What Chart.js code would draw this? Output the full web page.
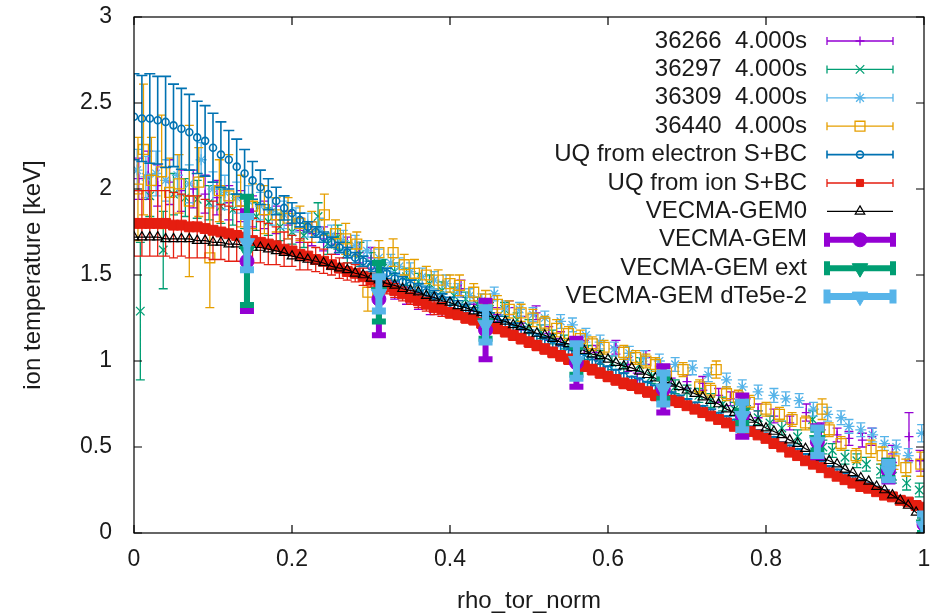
<!DOCTYPE html>
<html>
<head>
<meta charset="utf-8">
<title>Ion temperature profiles</title>
<script src="https://cdn.jsdelivr.net/npm/chart.js@4.4.1/dist/chart.umd.min.js"></script>
<style>
  html, body { margin: 0; padding: 0; background: #fff; }
  #wrap { width: 934px; height: 616px; }
</style>
</head>
<body>
<div id="wrap"><canvas id="tiChart" width="934" height="616"></canvas></div>
<script>
// axis ticks
const xTicks = [0, 0.2, 0.4, 0.6, 0.8, 1];
const yTicks = [0, 0.5, 1, 1.5, 2, 2.5, 3];

// common radial grid of the modelled profiles
const rhoGrid = [0,0.01,0.02,0.03,0.04,0.05,0.06,0.07,0.08,0.09,
  0.10,0.11,0.12,0.13,0.14,0.15,0.16,0.17,0.18,0.19,
  0.20,0.21,0.22,0.23,0.24,0.25,0.26,0.27,0.28,0.29,
  0.30,0.31,0.32,0.33,0.34,0.35,0.36,0.37,0.38,0.39,
  0.40,0.41,0.42,0.43,0.44,0.45,0.46,0.47,0.48,0.49,
  0.50,0.51,0.52,0.53,0.54,0.55,0.56,0.57,0.58,0.59,
  0.60,0.61,0.62,0.63,0.64,0.65,0.66,0.67,0.68,0.69,
  0.70,0.71,0.72,0.73,0.74,0.75,0.76,0.77,0.78,0.79,
  0.80,0.81,0.82,0.83,0.84,0.85,0.86,0.87,0.88,0.89,
  0.90,0.91,0.92,0.93,0.94,0.95,0.96,0.97,0.98,0.99,1.00];

// UQ from electron sources + boundary condition
const elecUqTi = [2.42,2.41,2.41,2.40,2.39,2.37,2.35,2.33,2.30,2.28,
  2.24,2.20,2.17,2.13,2.09,2.05,2.01,1.97,1.93,1.89,
  1.86,1.82,1.78,1.75,1.72,1.69,1.66,1.63,1.60,1.58,
  1.55,1.53,1.51,1.48,1.46,1.44,1.42,1.40,1.38,1.36,
  1.34,1.32,1.30,1.28,1.26,1.25,1.23,1.21,1.19,1.17,
  1.15,1.13,1.11,1.09,1.07,1.05,1.03,1.01,0.99,0.97,
  0.95,0.93,0.91,0.89,0.88,0.86,0.84,0.82,0.80,0.78,
  0.76,0.74,0.72,0.70,0.68,0.66,0.64,0.62,0.60,0.58,
  0.56,0.54,0.51,0.49,0.47,0.44,0.42,0.40,0.37,0.35,
  0.33,0.31,0.29,0.27,0.25,0.23,0.21,0.19,0.18,0.16,0.15];
const elecUqErr = [0.25,0.25,0.26,0.255,0.265,0.24,0.235,0.22,0.21,0.205,
  0.20,0.19,0.17,0.16,0.14,0.11,0.10,0.09,0.08,0.07,
  0.06,0.04,0.03,0.03,0.03,0.03,0.03,0.03,0.03,0.03,
  0.03,0.03,0.03,0.03,0.03,0.03,0.03,0.03,0.03,0.03,
  0.03,0.03,0.03,0.03,0.03,0.03,0.03,0.03,0.03,0.03,
  0.03,0.03,0.03,0.03,0.03,0.03,0.03,0.03,0.03,0.03,
  0.02,0.02,0.02,0.02,0.02,0.02,0.02,0.02,0.02,0.02,
  0.02,0.02,0.02,0.02,0.02,0.02,0.02,0.02,0.02,0.02,
  0.02,0.02,0.02,0.02,0.02,0.02,0.02,0.02,0.02,0.02,
  0.02,0.02,0.02,0.02,0.02,0.02,0.02,0.02,0.02,0.02,0.02];

// UQ from ion sources + boundary condition
const ionUqTi = [1.80,1.80,1.80,1.80,1.80,1.79,1.79,1.78,1.78,1.77,
  1.76,1.75,1.74,1.73,1.72,1.70,1.69,1.68,1.67,1.65,
  1.64,1.62,1.61,1.59,1.58,1.56,1.54,1.52,1.51,1.49,
  1.47,1.45,1.43,1.41,1.39,1.37,1.35,1.33,1.31,1.30,
  1.28,1.27,1.25,1.24,1.22,1.21,1.19,1.17,1.15,1.13,
  1.11,1.09,1.07,1.05,1.03,1.01,0.99,0.97,0.95,0.93,
  0.91,0.89,0.87,0.86,0.84,0.82,0.80,0.79,0.77,0.76,
  0.74,0.72,0.70,0.68,0.66,0.64,0.62,0.60,0.59,0.57,
  0.55,0.52,0.50,0.47,0.45,0.42,0.40,0.38,0.35,0.33,
  0.31,0.29,0.27,0.26,0.24,0.22,0.21,0.19,0.18,0.16,0.15];
const ionUqErr = [0.19,0.19,0.19,0.19,0.19,0.19,0.18,0.18,0.18,0.17,
  0.17,0.16,0.16,0.15,0.14,0.13,0.12,0.12,0.11,0.10,
  0.09,0.09,0.08,0.07,0.07,0.06,0.06,0.05,0.05,0.05,
  0.04,0.04,0.04,0.04,0.04,0.04,0.04,0.04,0.04,0.04,
  0.03,0.03,0.03,0.03,0.03,0.03,0.03,0.03,0.03,0.03,
  0.03,0.03,0.03,0.03,0.03,0.03,0.03,0.03,0.03,0.03,
  0.03,0.03,0.03,0.03,0.03,0.03,0.03,0.03,0.03,0.03,
  0.02,0.02,0.02,0.02,0.02,0.02,0.02,0.02,0.02,0.02,
  0.02,0.02,0.02,0.02,0.02,0.02,0.02,0.02,0.02,0.02,
  0.02,0.02,0.02,0.02,0.02,0.02,0.02,0.02,0.02,0.02,0.02];

// VECMA-GEM0 reference run
const gem0Ti = [1.72,1.72,1.72,1.72,1.71,1.71,1.71,1.71,1.70,1.70,
  1.69,1.69,1.68,1.68,1.67,1.66,1.66,1.65,1.64,1.63,
  1.61,1.60,1.59,1.58,1.57,1.55,1.54,1.53,1.51,1.50,
  1.48,1.47,1.45,1.44,1.42,1.41,1.40,1.38,1.37,1.35,
  1.34,1.32,1.31,1.29,1.28,1.26,1.24,1.23,1.21,1.20,
  1.18,1.16,1.15,1.13,1.11,1.10,1.08,1.06,1.04,1.03,
  1.01,0.99,0.97,0.96,0.94,0.92,0.90,0.88,0.87,0.85,
  0.83,0.81,0.79,0.77,0.75,0.72,0.70,0.68,0.66,0.64,
  0.61,0.59,0.57,0.54,0.52,0.49,0.47,0.44,0.42,0.40,
  0.37,0.35,0.32,0.30,0.27,0.25,0.22,0.19,0.16,0.12,0.08];

// measured profiles, shot 36266 at 4.000 s
const s36266Rho = [0.006,0.018,0.03,0.045,0.06,0.075,0.09,0.105,0.12,0.135,0.15,0.165,0.18,0.195,0.21,0.225,0.24,0.255,0.27,0.285,0.30,
  0.315,0.33,0.345,0.36,0.375,0.39,0.414,0.43,0.445,0.46,0.475,0.49,0.509,0.525,0.54,0.555,0.57,0.585,0.61,0.625,0.637,0.648,
  0.665,0.68,0.70,0.72,0.74,0.755,0.775,0.79,0.81,0.83,0.851,0.87,0.89,0.905,0.922,0.934,0.96,0.981,0.995];
const s36266Ti = [2.06,2.08,2.02,2.04,1.99,2.00,1.97,1.95,1.92,1.90,1.87,1.85,1.82,1.79,1.76,1.74,1.71,1.68,1.66,1.63,1.60,
  1.45,1.41,1.38,1.35,1.32,1.31,1.42,1.33,1.30,1.27,1.31,1.22,1.28,1.16,1.13,1.10,1.08,1.05,1.08,0.98,0.89,1.02,
  0.93,0.90,0.88,0.87,0.80,0.78,0.74,0.71,0.68,0.64,0.70,0.60,0.57,0.55,0.54,0.56,0.46,0.56,0.42];
const s36266Err = [0.12,0.14,0.12,0.13,0.12,0.11,0.11,0.10,0.10,0.09,0.09,0.08,0.08,0.08,0.07,0.07,0.07,0.06,0.06,0.06,0.06,
  0.05,0.05,0.05,0.05,0.05,0.05,0.05,0.04,0.04,0.04,0.04,0.04,0.04,0.04,0.04,0.04,0.04,0.04,0.04,0.04,0.04,0.04,
  0.04,0.04,0.04,0.04,0.04,0.04,0.04,0.04,0.04,0.04,0.05,0.04,0.04,0.04,0.04,0.05,0.05,0.14,0.06];

// shot 36297 at 4.000 s
const s36297Rho = [0.008,0.02,0.037,0.05,0.065,0.08,0.095,0.11,0.125,0.14,0.155,0.17,0.185,0.20,0.215,0.233,0.245,0.258,0.27,0.286,
  0.30,0.315,0.33,0.345,0.36,0.374,0.39,0.405,0.42,0.435,0.45,0.469,0.485,0.50,0.515,0.53,0.545,0.56,0.575,0.59,0.605,0.62,
  0.64,0.655,0.67,0.685,0.70,0.715,0.73,0.745,0.76,0.775,0.79,0.805,0.82,0.84,0.859,0.872,0.884,0.90,0.915,0.927,0.945,0.96,0.978,0.994];
const s36297Ti = [1.29,1.96,1.645,1.97,1.95,1.94,1.92,1.90,1.88,1.86,1.84,1.81,1.78,1.75,1.73,1.84,1.68,1.72,1.63,1.62,
  1.57,1.54,1.52,1.49,1.46,1.45,1.41,1.38,1.36,1.33,1.30,1.30,1.24,1.20,1.17,1.14,1.11,1.08,1.05,1.02,0.99,0.97,
  0.98,0.91,0.88,0.85,0.82,0.80,0.77,0.75,0.72,0.70,0.67,0.64,0.61,0.56,0.66,0.50,0.48,0.44,0.42,0.40,0.36,0.33,0.29,0.25];
const s36297Err = [0.40,0.12,0.225,0.12,0.11,0.11,0.10,0.10,0.09,0.09,0.08,0.08,0.08,0.07,0.07,0.08,0.06,0.07,0.06,0.07,
  0.06,0.05,0.05,0.05,0.05,0.05,0.05,0.05,0.04,0.04,0.04,0.04,0.04,0.04,0.04,0.04,0.04,0.04,0.04,0.04,0.04,0.04,
  0.04,0.04,0.04,0.04,0.04,0.04,0.04,0.04,0.04,0.04,0.04,0.04,0.04,0.04,0.05,0.04,0.04,0.04,0.04,0.04,0.04,0.04,0.04,0.04];

// shot 36309 at 4.000 s
const s36309Rho = [0.004,0.015,0.028,0.04,0.055,0.07,0.085,0.10,0.115,0.13,0.145,0.16,0.175,0.19,0.205,0.22,0.235,0.25,0.265,0.28,
  0.295,0.31,0.325,0.336,0.35,0.365,0.38,0.395,0.41,0.425,0.44,0.456,0.47,0.488,0.505,0.52,0.54,0.555,0.572,0.59,0.608,0.627,
  0.645,0.665,0.685,0.707,0.727,0.75,0.77,0.79,0.81,0.825,0.842,0.86,0.878,0.895,0.905,0.92,0.935,0.95,0.965,0.98,0.997];
const s36309Ti = [2.11,2.07,2.09,2.05,2.08,2.03,2.17,2.00,1.98,1.95,1.93,1.90,1.87,1.85,1.82,1.79,1.76,1.73,1.70,1.67,
  1.64,1.60,1.57,1.55,1.52,1.49,1.47,1.45,1.41,1.38,1.35,1.39,1.31,1.30,1.27,1.25,1.23,1.21,1.15,1.11,1.07,1.045,
  1.02,1.00,0.98,0.96,0.92,0.89,0.85,0.82,0.80,0.78,0.77,0.72,0.69,0.67,0.62,0.60,0.57,0.52,0.50,0.45,0.58];
const s36309Err = [0.12,0.12,0.13,0.12,0.12,0.11,0.10,0.10,0.10,0.09,0.09,0.08,0.08,0.08,0.07,0.07,0.07,0.06,0.06,0.06,
  0.06,0.05,0.05,0.05,0.05,0.05,0.05,0.05,0.04,0.04,0.04,0.04,0.04,0.04,0.04,0.04,0.04,0.04,0.04,0.04,0.04,0.04,
  0.04,0.04,0.04,0.04,0.04,0.04,0.04,0.04,0.04,0.04,0.04,0.04,0.04,0.04,0.04,0.04,0.04,0.04,0.04,0.04,0.05];

// shot 36440 at 4.000 s
const s36440Rho = [0.005,0.012,0.022,0.035,0.045,0.057,0.07,0.082,0.096,0.108,0.12,0.135,0.15,0.165,0.18,0.195,0.21,0.225,0.241,0.255,
  0.268,0.282,0.296,0.31,0.328,0.342,0.355,0.37,0.385,0.40,0.412,0.43,0.445,0.46,0.475,0.49,0.505,0.52,0.535,0.55,0.565,0.58,
  0.595,0.62,0.635,0.648,0.66,0.674,0.695,0.716,0.73,0.737,0.75,0.765,0.779,0.80,0.817,0.833,0.85,0.871,0.88,0.895,0.914,
  0.933,0.947,0.962,0.977,0.996];
const s36440Ti = [2.00,2.23,2.05,2.10,1.98,2.03,1.93,2.04,1.60,1.99,1.96,1.93,1.90,1.88,1.85,1.83,1.80,1.78,1.85,1.74,
  1.71,1.68,1.40,1.63,1.63,1.56,1.51,1.50,1.47,1.45,1.44,1.40,1.36,1.33,1.30,1.28,1.25,1.22,1.19,1.16,1.13,1.10,
  1.08,1.05,1.02,1.00,0.98,0.93,0.95,0.85,0.83,0.95,0.81,0.79,0.76,0.72,0.69,0.66,0.64,0.72,0.60,0.52,0.45,
  0.49,0.45,0.42,0.38,0.40];
const s36440Err = [0.30,0.38,0.25,0.33,0.20,0.17,0.44,0.20,0.29,0.18,0.24,0.15,0.13,0.14,0.10,0.12,0.10,0.09,0.12,0.08,
  0.09,0.07,0.11,0.07,0.08,0.06,0.08,0.05,0.06,0.05,0.06,0.05,0.05,0.05,0.05,0.05,0.05,0.04,0.05,0.04,0.05,0.04,
  0.04,0.04,0.04,0.04,0.04,0.04,0.04,0.04,0.04,0.05,0.04,0.04,0.04,0.04,0.04,0.04,0.04,0.06,0.04,0.04,0.04,
  0.05,0.05,0.05,0.05,0.07];

// VECMA-GEM turbulence runs at the flux-tube positions
const gemRho = [0.143, 0.31, 0.445, 0.56, 0.67, 0.77, 0.865, 0.955, 1.0];
const gemTi = [1.58, 1.36, 1.18, 0.99, 0.835, 0.68, 0.53, 0.36, 0.05];
const gemErr = [0.29, 0.21, 0.17, 0.14, 0.135, 0.12, 0.09, 0.06, 0.06];
const gemExtTi = [1.64, 1.40, 1.22, 1.00, 0.84, 0.70, 0.54, 0.37, 0.05];
const gemExtErr = [0.315, 0.17, 0.09, 0.08, 0.06, 0.06, 0.06, 0.05, 0.05];
const gemDTeTi = [1.685, 1.39, 1.21, 1.00, 0.84, 0.68, 0.53, 0.36, 0.04];
const gemDTeErr = [0.155, 0.10, 0.10, 0.10, 0.09, 0.08, 0.08, 0.05, 0.07];

const seriesLabels = ['36266  4.000s', '36297  4.000s', '36309  4.000s', '36440  4.000s',
  'UQ from electron S+BC', 'UQ from ion S+BC', 'VECMA-GEM0',
  'VECMA-GEM', 'VECMA-GEM ext', 'VECMA-GEM dTe5e-2'];

const FONT = '"Liberation Sans", Arial, sans-serif';

function toPoints(xs, ys) {
  return xs.map((x, i) => ({ x: x, y: ys[i] }));
}

function errSeries(label, xs, ys, errs, color, style) {
  return Object.assign({
    label: label,
    data: toPoints(xs, ys),
    errors: errs,
    borderColor: color,
    backgroundColor: 'rgba(0,0,0,0)',
    pointBorderWidth: 1.3,
    barWidth: 1.3,
    capHalf: 4.5,
    showLine: false
  }, style);
}

const datasets = [
  errSeries(seriesLabels[0], s36266Rho, s36266Ti, s36266Err, '#9400d3', { pointStyle: 'cross', pointRadius: 4.5 }),
  errSeries(seriesLabels[1], s36297Rho, s36297Ti, s36297Err, '#009e73', { pointStyle: 'crossRot', pointRadius: 6 }),
  errSeries(seriesLabels[2], s36309Rho, s36309Ti, s36309Err, '#56b4e9', { pointStyle: 'star', pointRadius: 5.5 }),
  errSeries(seriesLabels[3], s36440Rho, s36440Ti, s36440Err, '#e69f00', { pointStyle: 'rect', pointRadius: 7 }),
  errSeries(seriesLabels[4], rhoGrid, elecUqTi, elecUqErr, '#0072b2',
    { pointStyle: 'circle', pointRadius: 3.5, pointBorderWidth: 1.6, barWidth: 1.6, capHalf: 5.5 }),
  errSeries(seriesLabels[5], rhoGrid, ionUqTi, ionUqErr, '#e51e10',
    { pointStyle: 'rect', pointRadius: 7, backgroundColor: '#e51e10', pointBorderWidth: 1 }),
  {
    label: seriesLabels[6],
    data: toPoints(rhoGrid, gem0Ti),
    borderColor: '#000000',
    backgroundColor: 'rgba(0,0,0,0)',
    borderWidth: 1.2,
    pointStyle: 'triangle',
    pointRadius: 5.5,
    pointBorderWidth: 1.2,
    showLine: true
  },
  errSeries(seriesLabels[7], gemRho, gemTi, gemErr, '#9400d3',
    { pointStyle: 'circle', pointRadius: 7, backgroundColor: '#9400d3', barWidth: 6, capHalf: 7, pointBorderWidth: 1 }),
  errSeries(seriesLabels[8], gemRho, gemExtTi, gemExtErr, '#009e73',
    { pointStyle: 'triangle', pointRotation: 180, pointRadius: 9, backgroundColor: '#009e73', barWidth: 6, capHalf: 7, pointBorderWidth: 1 }),
  errSeries(seriesLabels[9], gemRho, gemDTeTi, gemDTeErr, '#56b4e9',
    { pointStyle: 'triangle', pointRotation: 180, pointRadius: 9, backgroundColor: '#56b4e9', barWidth: 7, capHalf: 7, pointBorderWidth: 1 })
];

// first series drawn first, later ones on top
datasets.forEach((ds, i) => { ds.order = datasets.length - i; });

// vertical error bars under each series' own markers
const errorBars = {
  id: 'errorBars',
  beforeDatasetDraw(chart, args) {
    const ds = chart.data.datasets[args.index];
    if (!ds.errors) return;
    const { ctx, chartArea: a } = chart;
    const xs = chart.scales.x, ys = chart.scales.y;
    ctx.save();
    ctx.beginPath();
    ctx.rect(a.left, a.top, a.right - a.left, a.bottom - a.top);
    ctx.clip();
    ctx.strokeStyle = ds.borderColor;
    ctx.lineWidth = ds.barWidth;
    ctx.beginPath();
    ds.data.forEach((p, i) => {
      const e = ds.errors[i];
      const px = xs.getPixelForValue(p.x);
      const top = ys.getPixelForValue(p.y + e);
      const bot = ys.getPixelForValue(p.y - e);
      ctx.moveTo(px, top);
      ctx.lineTo(px, bot);
      ctx.moveTo(px - ds.capHalf, top);
      ctx.lineTo(px + ds.capHalf, top);
      ctx.moveTo(px - ds.capHalf, bot);
      ctx.lineTo(px + ds.capHalf, bot);
    });
    ctx.stroke();
    ctx.restore();
  }
};

// closed border with inward ticks on all four sides
const frame = {
  id: 'frame',
  afterDatasetsDraw(chart) {
    const { ctx, chartArea: a } = chart;
    const xs = chart.scales.x, ys = chart.scales.y;
    const tick = 8;
    ctx.save();
    ctx.strokeStyle = '#000';
    ctx.lineWidth = 1.2;
    ctx.strokeRect(a.left, a.top, a.right - a.left, a.bottom - a.top);
    ctx.beginPath();
    xTicks.forEach(v => {
      const px = xs.getPixelForValue(v);
      ctx.moveTo(px, a.bottom); ctx.lineTo(px, a.bottom - tick);
      ctx.moveTo(px, a.top); ctx.lineTo(px, a.top + tick);
    });
    yTicks.forEach(v => {
      const py = ys.getPixelForValue(v);
      ctx.moveTo(a.left, py); ctx.lineTo(a.left + tick, py);
      ctx.moveTo(a.right, py); ctx.lineTo(a.right - tick, py);
    });
    ctx.stroke();
    ctx.restore();
  }
};

// key box in the upper right corner
const keyBox = {
  id: 'keyBox',
  afterDraw(chart) {
    const ctx = chart.ctx;
    const textRight = 807, x0 = 827, x1 = 893, xm = 860;
    ctx.save();
    ctx.font = '24px ' + FONT;
    ctx.textAlign = 'right';
    ctx.textBaseline = 'middle';
    chart.data.datasets.forEach((ds, i) => {
      const yy = 41 + i * 28.4;
      ctx.fillStyle = '#1a1a1a';
      ctx.fillText(ds.label, textRight, yy);
      const thick = (ds.barWidth || 0) > 3;
      ctx.strokeStyle = ds.borderColor;
      ctx.lineWidth = ds.barWidth || ds.borderWidth;
      ctx.beginPath();
      ctx.moveTo(x0, yy);
      ctx.lineTo(x1, yy);
      if (ds.errors) {
        const h = thick ? 7 : 4;
        ctx.moveTo(x0, yy - h); ctx.lineTo(x0, yy + h);
        ctx.moveTo(x1, yy - h); ctx.lineTo(x1, yy + h);
      }
      ctx.stroke();
      ctx.fillStyle = ds.backgroundColor;
      ctx.lineWidth = ds.pointBorderWidth;
      Chart.helpers.drawPoint(ctx, {
        pointStyle: ds.pointStyle,
        radius: ds.pointStyle === 'rect' && ds.backgroundColor !== 'rgba(0,0,0,0)' ? 5 : ds.pointRadius,
        rotation: ds.pointRotation || 0,
        borderWidth: ds.pointBorderWidth
      }, xm, yy);
    });
    ctx.restore();
  }
};

const tickFont = { family: FONT, size: 23 };
const titleFont = { family: FONT, size: 24 };

new Chart(document.getElementById('tiChart').getContext('2d'), {
  type: 'scatter',
  data: { datasets: datasets },
  options: {
    responsive: false,
    animation: false,
    events: [],
    layout: { padding: { left: 0, right: 9, top: 17, bottom: 0 } },
    plugins: {
      legend: { display: false },
      tooltip: { enabled: false }
    },
    scales: {
      x: {
        type: 'linear',
        min: 0,
        max: 1,
        afterFit(scale) {
          scale.height = 83;
          scale.paddingLeft = 0;
          scale.paddingRight = 0;
        },
        afterBuildTicks(scale) { scale.ticks = xTicks.map(v => ({ value: v })); },
        grid: { display: false, drawTicks: false },
        border: { display: false },
        ticks: { font: tickFont, color: '#1a1a1a', padding: 13, maxRotation: 0,
          callback: v => String(v) },
        title: { display: true, text: 'rho_tor_norm', font: titleFont, color: '#1a1a1a',
          padding: { top: 0, bottom: 0 } }
      },
      y: {
        type: 'linear',
        min: 0,
        max: 3,
        afterFit(scale) {
          scale.width = 134;
          scale.paddingTop = 0;
          scale.paddingBottom = 0;
        },
        afterBuildTicks(scale) { scale.ticks = yTicks.map(v => ({ value: v })); },
        grid: { display: false, drawTicks: false },
        border: { display: false },
        ticks: { font: tickFont, color: '#1a1a1a', padding: 22,
          callback: v => String(v) },
        title: { display: true, text: 'ion temperature [keV]', font: titleFont, color: '#1a1a1a',
          padding: { top: 19, bottom: 0 } }
      }
    }
  },
  plugins: [errorBars, frame, keyBox]
});
</script>
</body>
</html>
